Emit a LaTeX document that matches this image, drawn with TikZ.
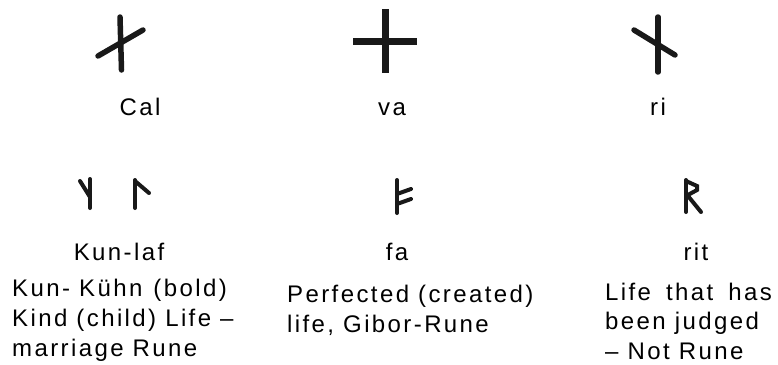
\documentclass[tikz,border=0pt]{standalone}
\usepackage{fontspec}
\setmainfont[LetterSpace=10]{Liberation Sans}
\usetikzlibrary{positioning}

\begin{document}
\begin{tikzpicture}[x=1pt,y=-1pt,
  bigrune/.style={line width=5.5pt,line cap=round,black!90},
  smallrune/.style={line width=4pt,line cap=round,black!90},
  runename/.style={font=\fontsize{24}{30}\selectfont,inner sep=0pt,anchor=base},
  meaning/.style={font=\fontsize{24}{30}\selectfont,inner sep=0pt,anchor=base west}]

\useasboundingbox (0,0) rectangle (778,364);

% ============================
% TOP ROW — CAL, VA, RI
% ============================

% Cal
\draw[bigrune] (120,17) -- (121.5,70);
\draw[bigrune] (98,56) -- (143,30);
\node[runename] (cal) at (140,115) {Cal};

% va (plus)
\draw[bigrune,line width=7pt,line cap=butt] (385.5,9) -- (385.5,73);
\draw[bigrune,line width=7pt,line cap=butt] (353,41.5) -- (417,41.5);
\node[runename] (va) at (392,115) {va};

% ri
\draw[bigrune] (658,17) -- (658,72);
\draw[bigrune] (634,30) -- (675,55);
\node[runename] (ri) at (658,115) {ri};

% ============================
% SECOND ROW — KUN-LAF, FA, RIT
% ============================

% Kun and Laf
\draw[smallrune] (90,179) -- (90,208);
\draw[smallrune] (90,197) -- (80,181);
\draw[smallrune] (135,180) -- (135,208);
\draw[smallrune] (135,181) -- (149,193);
\node[runename] (kunlaf) at (119,260) {Kun-laf};

% fa
\draw[smallrune] (397,180) -- (397,213);
\draw[smallrune] (397,194) -- (411,189);
\draw[smallrune] (397,204) -- (411,199);
\node[runename] (fa) at (397,260) {fa};

% rit
\draw[smallrune] (686,180) -- (686,212);
\draw[smallrune] (686,181) -- (697,186) -- (697,190) -- (686,196);
\draw[smallrune] (688,196) -- (701,212);
\node[runename] (rit) at (696,260) {rit};

% ============================
% MEANINGS
% ============================

\node[meaning] (kun1) at (12,296) {Kun- Kühn\hspace{2pt} (bold)};
\node[meaning] (kun2) at (12,326) {Kind (child) Life –};
\node[meaning] (kun3) at (12,356) {marriage Rune};

\node[meaning] (fa1) at (287,302) {Perfected (created)};
\node[meaning] (fa2) at (287,332) {life, Gibor-Rune};

\node[meaning] (rit1) at (605,300) {Life\hspace{6pt} that\hspace{6pt} has};
\node[meaning] (rit2) at (605,329) {been judged};
\node[meaning] (rit3) at (605,359) {– Not Rune};

\end{tikzpicture}
\end{document}
